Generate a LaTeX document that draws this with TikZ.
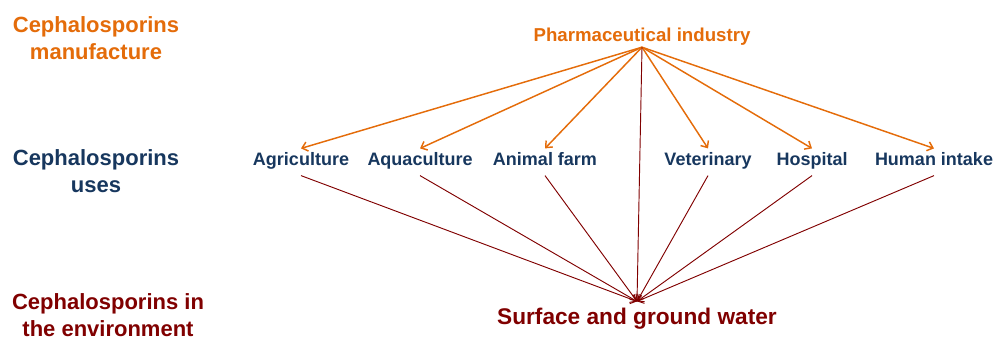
\documentclass[tikz,border=0pt]{standalone}
\usepackage{fontspec}
\setmainfont{Liberation Sans}
\usepackage{tikz}
\usetikzlibrary{arrows.meta, positioning}
\definecolor{makeorange}{RGB}{228, 108, 10}
\definecolor{useblue}{RGB}{23, 55, 94}
\definecolor{envred}{RGB}{128, 0, 0}

\begin{document}
\begin{tikzpicture}[x=0.75pt, y=-0.75pt,
        level/.style={font=\bfseries\fontsize{16.5}{20}\selectfont, align=center, inner sep=0pt},
        usebox/.style={font=\bfseries\fontsize{13.5}{16}\selectfont, text=useblue, text height=0.75em, text depth=0.25em, inner xsep=0pt, inner ysep=5pt},
        feed/.style={makeorange, line width=1.1pt, -{Straight Barb[length=4pt,width=7pt]}},
        drain/.style={envred, line width=0.7pt, -{Straight Barb[length=4pt,width=7pt]}}]
        \useasboundingbox (0,0) rectangle (998,340);

        % stage labels on the left
        \node[level, text=makeorange] (manuf) at (96,38) {Cephalosporins\\manufacture};
        \node[level, text=useblue] (uses) at (96,171) {Cephalosporins\\uses};
        \node[level, text=envred] (env) at (108,315) {Cephalosporins in\\the environment};

        \node[font=\bfseries\fontsize{14}{17}\selectfont, text=makeorange, text height=0.75em, text depth=0.25em, inner ysep=1.7pt] (pharma) at (642,38) {Pharmaceutical industry};

        \node[usebox] (agri) at (301,162) {Agriculture};
        \node[usebox] (aqua) at (420,162) {Aquaculture};
        \node[usebox] (farm) at (545,162) {Animal farm};
        \node[usebox] (vet) at (708,162) {Veterinary};
        \node[usebox] (hosp) at (812,162) {Hospital};
        \node[usebox] (human) at (934,162) {Human intake};

        \node[font=\bfseries\fontsize{17}{20}\selectfont, text=envred, text height=0.75em, text depth=0.25em, inner ysep=9.5pt] (water) at (637,321) {Surface and ground water};

        \draw[feed] (pharma.south) -- (agri.north);
        \draw[feed] (pharma.south) -- (aqua.north);
        \draw[feed] (pharma.south) -- (farm.north);
        \draw[feed] (pharma.south) -- (vet.north);
        \draw[feed] (pharma.south) -- (hosp.north);
        \draw[feed] (pharma.south) -- (human.north);

        \draw[drain] (pharma.south) -- (water.north);
        \draw[drain] (agri.south) -- (water.north);
        \draw[drain] (aqua.south) -- (water.north);
        \draw[drain] (farm.south) -- (water.north);
        \draw[drain] (vet.south) -- (water.north);
        \draw[drain] (hosp.south) -- (water.north);
        \draw[drain] (human.south) -- (water.north);
    \end{tikzpicture}
\end{document}
